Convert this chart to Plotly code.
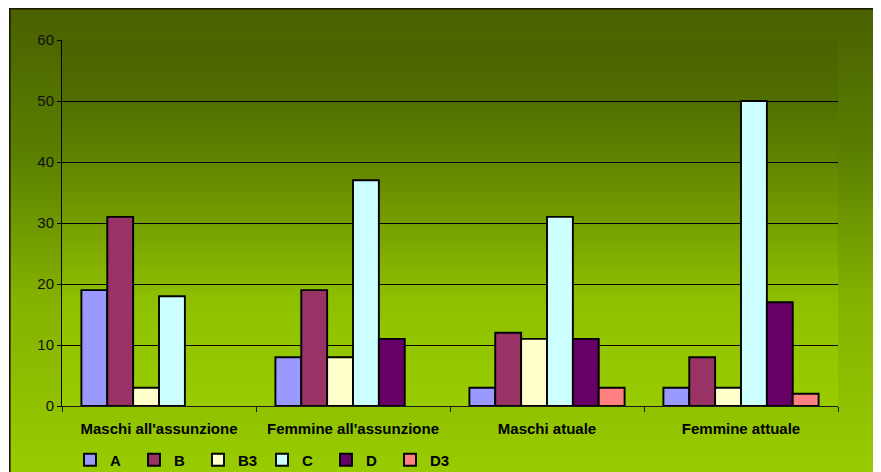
import base64, struct, zlib
import plotly.graph_objects as go

categories = ["Maschi all'assunzione", "Femmine all'assunzione", "Maschi atuale", "Femmine attuale"]
series_names = ["A", "B", "B3", "C", "D", "D3"]
values_A = [19, 8, 3, 3]
values_B = [31, 19, 12, 8]
values_B3 = [3, 8, 11, 3]
values_C = [18, 37, 31, 50]
values_D = [None, 11, 11, 17]
values_D3 = [None, None, 3, 2]
series_values = [values_A, values_B, values_B3, values_C, values_D, values_D3]
series_colors = ["#9999FF", "#993366", "#FFFFCC", "#CCFFFF", "#660066", "#FF8080"]
y_ticks = [0, 10, 20, 30, 40, 50, 60]

# page body has an 8px margin; figure is sized to fill the rest of the window
OFF = 8
W, H = 881 - OFF, 472 - OFF
ML, MR, MT, MB = 62 - OFF, 43, 40 - OFF, 66
PW, PH = W - ML - MR, H - MT - MB


def px_to_paper_x(px):
    return (px - OFF - ML) / PW


def px_to_paper_y(py):
    return (H - MB - (py - OFF)) / PH


def hex2rgb(h):
    h = h.lstrip("#")
    return tuple(int(h[i:i + 2], 16) for i in (0, 2, 4))


def gradient_png(stops, y0, y1):
    rows = []
    for py in range(y0, y1):
        for (a, ca), (b, cb) in zip(stops[:-1], stops[1:]):
            if a <= py <= b:
                t = (py - a) / (b - a) if b > a else 0
                c1, c2 = hex2rgb(ca), hex2rgb(cb)
                rows.append(tuple(int(round(c1[k] + (c2[k] - c1[k]) * t)) for k in range(3)))
                break
        else:
            rows.append(hex2rgb(stops[-1][1] if py > stops[-1][0] else stops[0][1]))
    raw = b"".join(b"\x00" + bytes(r) for r in rows)

    def chunk(tag, data):
        c = struct.pack(">I", len(data)) + tag + data
        return c + struct.pack(">I", zlib.crc32(tag + data) & 0xffffffff)

    png = b"\x89PNG\r\n\x1a\n"
    png += chunk(b"IHDR", struct.pack(">IIBBBBB", 1, len(rows), 8, 2, 0, 0, 0))
    png += chunk(b"IDAT", zlib.compress(raw))
    png += chunk(b"IEND", b"")
    return "data:image/png;base64," + base64.b64encode(png).decode()


outer_stops = [(8, "#4a6000"), (100, "#547400"), (150, "#5a7e00"), (300, "#85b200"), (400, "#90c000"), (472, "#99cc00")]
inner_stops = [(40, "#4b6200"), (100, "#516e00"), (150, "#5e8000"), (300, "#8fc000"), (406, "#99cc00")]

fig = go.Figure()
for name, vals, col in zip(series_names, series_values, series_colors):
    fig.add_trace(go.Bar(
        x=categories, y=vals, name=name,
        marker=dict(color=col, line=dict(color="black", width=1.9)),
    ))

fig.update_layout(
    width=W, height=H, autosize=False,
    margin=dict(l=ML, r=MR, t=MT, b=MB, pad=0, autoexpand=False),
    paper_bgcolor="white", plot_bgcolor="rgba(0,0,0,0)",
    barmode="group", bargap=0.2, bargroupgap=0,
    font=dict(family="Liberation Sans, Arial, sans-serif", size=15, color="black"),
    showlegend=True,
    legend=dict(orientation="h", x=px_to_paper_x(70), xanchor="left",
                y=px_to_paper_y(460), yanchor="middle",
                entrywidth=19, entrywidthmode="pixels",
                bgcolor="rgba(0,0,0,0)", font=dict(size=15, weight="bold"),
                itemclick=False),
    images=[
        dict(source=gradient_png(outer_stops, 8, 472), xref="paper", yref="paper",
             x=px_to_paper_x(9), y=px_to_paper_y(8), sizex=(881 - 9) / PW, sizey=(472 - 8) / PH,
             sizing="stretch", xanchor="left", yanchor="top", layer="below"),
        dict(source=gradient_png(inner_stops, 40, 406), xref="paper", yref="paper",
             x=0, y=1, sizex=1, sizey=1,
             sizing="stretch", xanchor="left", yanchor="top", layer="below"),
    ],
    shapes=[
        dict(type="rect", xref="paper", yref="paper",
             x0=px_to_paper_x(9.8), x1=px_to_paper_x(900),
             y0=px_to_paper_y(500), y1=px_to_paper_y(8.8),
             line=dict(color="#1a1a00", width=1.6), fillcolor="rgba(0,0,0,0)", layer="above"),
    ],
)

fig.update_xaxes(
    type="category", showline=True, linecolor="#1a1a1a", linewidth=1,
    ticks="outside", tickson="boundaries", ticklen=5, tickcolor="#1a1a1a",
    ticklabelstandoff=9,
    tickfont=dict(size=15, weight="bold", color="black"), showgrid=False,
)
fig.update_yaxes(
    range=[0, 60], tickvals=y_ticks, showline=True, linecolor="black", linewidth=1,
    ticks="outside", ticklen=4, tickcolor="black",
    showgrid=True, gridcolor="black", gridwidth=1, zeroline=False,
    tickfont=dict(size=15, color="#111111"),
)

fig.write_html("out.html")
